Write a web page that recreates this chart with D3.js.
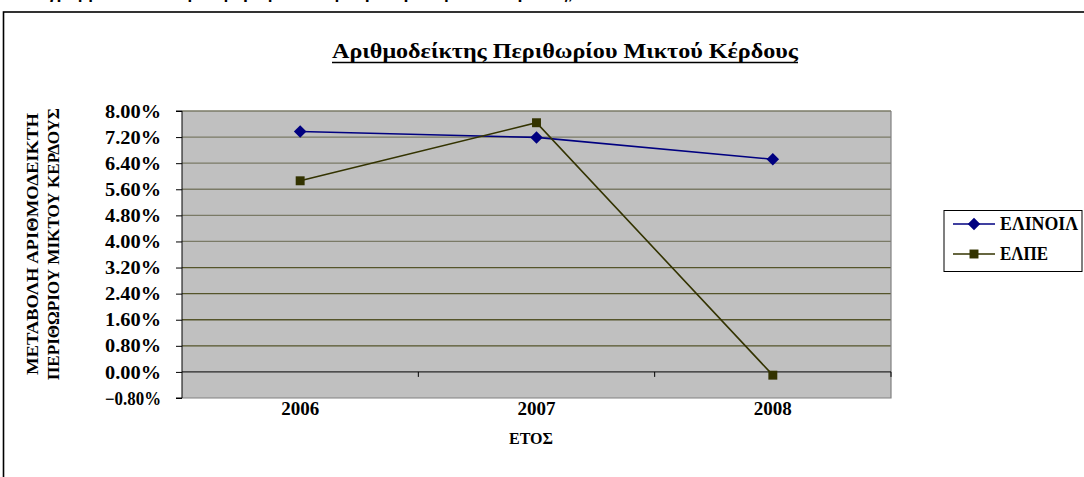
<!DOCTYPE html>
<html><head><meta charset="utf-8">
<script src="https://cdn.jsdelivr.net/npm/d3@7"></script>
<style>
html,body{margin:0;padding:0;background:#fff;overflow:hidden}
svg{display:block}
text{font-family:"Liberation Serif","Times New Roman",serif;font-weight:bold;fill:#000}
</style></head>
<body>
<svg id="chart" width="1084" height="477"></svg>
<script>
const categories = ["2006", "2007", "2008"];
const seriesNames = ["ΕΛΙΝΟΙΛ", "ΕΛΠΕ"];
const elinoilValues = [0.0737, 0.0719, 0.0652];
const elpeValues = [0.0586, 0.0764, -0.0010];
const yTicks = [-0.008, 0, 0.008, 0.016, 0.024, 0.032, 0.040, 0.048, 0.056, 0.064, 0.072, 0.080];
const chartTitle = "Αριθμοδείκτης Περιθωρίου Μικτού Κέρδους";
const xTitle = "ΕΤΟΣ";
const yTitleLines = ["ΜΕΤΑΒΟΛΗ ΑΡΙΘΜΟΔΕΙΚΤΗ", "ΠΕΡΙΘΩΡΙΟΥ ΜΙΚΤΟΥ ΚΕΡΔΟΥΣ"];
const captionText = "Διάγραμμα 3.2: Μεταβολή αριθμοδείκτη περιθωρίου μικτού κέρδους, ΕΛΙΝΟΙΛ και ΕΛΠΕ 2006 - 2008";

const svg = d3.select("#chart");
const L = 182, R = 891, T = 111, B = 398;

// caption, cut off at the top of the page as in the reference
svg.append("text").attr("x", 20).attr("y", -1)
  .style("font-family", "'Liberation Sans',Arial,sans-serif")
  .style("font-size", "17px").text(captionText);

// outer frame
svg.append("rect").attr("x", 3.5).attr("y", 12).attr("width", 1100).attr("height", 480)
  .attr("fill", "none").attr("stroke", "#000").attr("stroke-width", 1.6);

const x = d3.scaleBand().domain(categories).range([L, R]).padding(0);
const y = d3.scaleLinear().domain([-0.008, 0.08]).range([B, T]);

// plot background
svg.append("rect").attr("x", L).attr("y", T).attr("width", R - L).attr("height", B - T)
  .attr("fill", "#c0c0c0");

// gridlines
svg.append("g").selectAll("line").data(yTicks.filter(d => d > 0)).join("line")
  .attr("x1", L).attr("x2", R).attr("y1", d => y(d)).attr("y2", d => y(d))
  .attr("stroke", d => d > 0.036 ? "#7a7a66" : "#55552a").attr("stroke-width", 1.3);

// plot border right & bottom
svg.append("path").attr("d", `M${L},${B}H${R}V${T}`).attr("fill", "none")
  .attr("stroke", "#808080").attr("stroke-width", 1.2);

// y axis
const yAxis = d3.axisLeft(y).tickValues(yTicks).tickFormat(d3.format(".2%")).tickSize(6).tickPadding(15);
const gy = svg.append("g").attr("transform", `translate(${L},0)`).call(yAxis);
gy.select(".domain").attr("stroke", "#000").attr("d", `M-6,${B}H0V${T}H-6`);
gy.selectAll(".tick line").attr("stroke", "#000");
gy.selectAll(".tick text").style("font-size", "18px").style("font-family", "'Liberation Serif',serif")
  .attr("textLength", 56).attr("lengthAdjust", "spacingAndGlyphs").attr("dy", "0.34em");

// x axis at zero
const xAxis = d3.axisBottom(x).tickSize(0).tickFormat("");
const gx = svg.append("g").attr("transform", `translate(0,${y(0)})`).call(xAxis);
gx.select(".domain").attr("stroke", "#000").attr("d", `M${L},0H${R}`);
const bounds = categories.map(c => x(c)).concat([R]).slice(1);
gx.selectAll(".bt").data(bounds).join("line").attr("class", "bt")
  .attr("x1", d => d).attr("x2", d => d).attr("y1", 0).attr("y2", 5).attr("stroke", "#000");

// x category labels below plot
svg.append("g").selectAll("text").data(categories).join("text")
  .attr("x", d => x(d) + x.bandwidth() / 2).attr("y", B + 17)
  .attr("text-anchor", "middle").style("font-size", "19px")
  .attr("textLength", 38).attr("lengthAdjust", "spacingAndGlyphs").text(d => d);

// axis titles
svg.append("text").attr("x", 531).attr("y", 444).attr("text-anchor", "middle")
  .style("font-size", "16px").text(xTitle);
const yt = svg.append("g");
yTitleLines.forEach((t, i) => {
  yt.append("text").attr("transform", `translate(${38 + i * 21},${244}) rotate(-90)`)
    .attr("text-anchor", "middle").style("font-size", "17px")
    .attr("textLength", i === 0 ? 262 : 272).attr("lengthAdjust", "spacingAndGlyphs").text(t);
});

// title
svg.append("text").attr("x", 565).attr("y", 58).attr("text-anchor", "middle")
  .style("font-size", "21px").attr("textLength", 466).attr("lengthAdjust", "spacingAndGlyphs")
  .text(chartTitle);
svg.append("line").attr("x1", 565 - 233).attr("x2", 565 + 233).attr("y1", 62.5).attr("y2", 62.5)
  .attr("stroke", "#000").attr("stroke-width", 1.5);

// series
const series = [
  {name: seriesNames[0], values: elinoilValues, color: "#000080", shape: d3.symbolDiamond2, size: 100},
  {name: seriesNames[1], values: elpeValues, color: "#333300", shape: d3.symbolSquare, size: 80}
];
const line = d3.line().x((d, i) => x(categories[i]) + x.bandwidth() / 2).y(d => y(d));
series.forEach(s => {
  svg.append("path").datum(s.values).attr("d", line).attr("fill", "none")
    .attr("stroke", s.color).attr("stroke-width", 1.6);
  svg.append("g").selectAll("path").data(s.values).join("path")
    .attr("transform", (d, i) => `translate(${x(categories[i]) + x.bandwidth() / 2},${y(d)})`)
    .attr("d", d3.symbol().type(s.shape).size(s.size)).attr("fill", s.color);
});

// legend
const lg = svg.append("g");
lg.append("rect").attr("x", 944).attr("y", 210.5).attr("width", 138).attr("height", 61)
  .attr("fill", "#fff").attr("stroke", "#000").attr("stroke-width", 1);
series.forEach((s, i) => {
  const cy = 224 + i * 30;
  lg.append("line").attr("x1", 953).attr("x2", 995).attr("y1", cy).attr("y2", cy)
    .attr("stroke", s.color).attr("stroke-width", 1.6);
  lg.append("path").attr("transform", `translate(974,${cy})`)
    .attr("d", d3.symbol().type(s.shape).size(s.size)).attr("fill", s.color);
  lg.append("text").attr("x", 1000).attr("y", cy + 6).style("font-size", "18px")
    .attr("textLength", i === 0 ? 78 : 48).attr("lengthAdjust", "spacingAndGlyphs").text(s.name);
});
</script>
</body></html>
